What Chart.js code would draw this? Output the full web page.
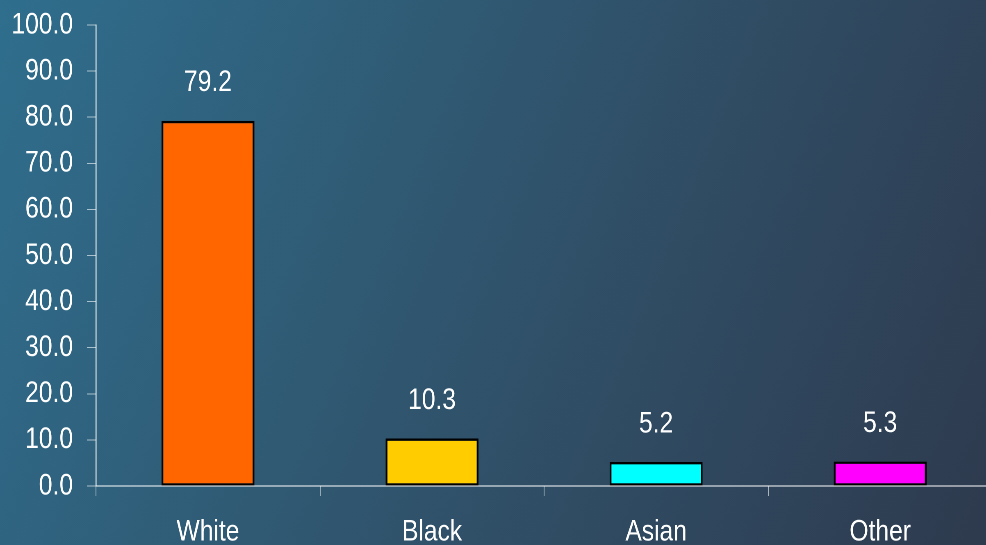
<!DOCTYPE html>
<html>
<head>
<meta charset="utf-8">
<script src="https://cdn.jsdelivr.net/npm/chart.js@4.4.1/dist/chart.umd.min.js"></script>
<style>
  html, body { margin: 0; padding: 0; width: 986px; height: 545px; overflow: hidden; }
  body { background: linear-gradient(112deg, #2f6e8d 0%, #30566f 45%, #2e3a4e 100%); }
  #wrap { position: absolute; left: 0; top: 0; width: 1220px; height: 545px; transform: scaleX(0.82); transform-origin: 0 0; }
</style>
</head>
<body>
<div id="wrap"><canvas id="c"></canvas></div>
<script>
const categories = ["White", "Black", "Asian", "Other"];
const values = [79.2, 10.3, 5.2, 5.3];
const barColors = ["#FF6600", "#FFCC00", "#00FFFF", "#FF00FF"];
const yTicks = [0, 10, 20, 30, 40, 50, 60, 70, 80, 90, 100];

const FONT_FAMILY = "'Liberation Sans', Arial, sans-serif";

const valueLabels = {
  id: 'valueLabels',
  afterDatasetsDraw(chart) {
    const ctx = chart.ctx;
    const meta = chart.getDatasetMeta(0);
    ctx.save();
    ctx.fillStyle = '#ffffff';
    ctx.font = '30px ' + FONT_FAMILY;
    ctx.textAlign = 'center';
    ctx.textBaseline = 'middle';
    meta.data.forEach((bar, i) => {
      ctx.fillText(values[i].toFixed(1), bar.x, bar.y - 38);
    });
    ctx.restore();
  }
};

const canvas = document.getElementById('c');
canvas.width = 1220; canvas.height = 545;

new Chart(canvas, {
  type: 'bar',
  data: {
    labels: categories,
    datasets: [{
      data: values,
      backgroundColor: barColors,
      borderColor: '#000000',
      borderWidth: 2.3,
      borderSkipped: false,
      barPercentage: 0.415,
      categoryPercentage: 1.0
    }]
  },
  options: {
    responsive: false,
    devicePixelRatio: 2,
    animation: false,
    layout: { padding: { left: 0, top: 25, right: 10, bottom: 0 } },
    plugins: { legend: { display: false }, tooltip: { enabled: false } },
    scales: {
      x: {
        grid: { display: true, drawOnChartArea: false, drawTicks: true, tickLength: 10, tickColor: 'rgba(255,255,255,0.6)', offset: true },
        border: { display: true, color: '#ffffff', width: 1 },
        ticks: { color: '#ffffff', font: { family: FONT_FAMILY, size: 30 }, padding: 18, maxRotation: 0 },
        afterFit(scale) { scale.height = 59; scale.paddingLeft = 0; scale.paddingRight = 0; }
      },
      y: {
        min: 0, max: 100,
        afterBuildTicks(scale) { scale.ticks = yTicks.map(v => ({ value: v })); },
        grid: { display: true, drawOnChartArea: false, drawTicks: true, tickLength: 11, tickColor: 'rgba(255,255,255,0.6)' },
        border: { display: true, color: '#ffffff', width: 1.2 },
        ticks: { color: '#ffffff', font: { family: FONT_FAMILY, size: 30 }, padding: 17, callback: (v) => Number(v).toFixed(1) },
        afterFit(scale) { scale.width = 117; scale.paddingTop = 0; scale.paddingBottom = 0; }
      }
    }
  },
  plugins: [valueLabels]
});
</script>
</body>
</html>
